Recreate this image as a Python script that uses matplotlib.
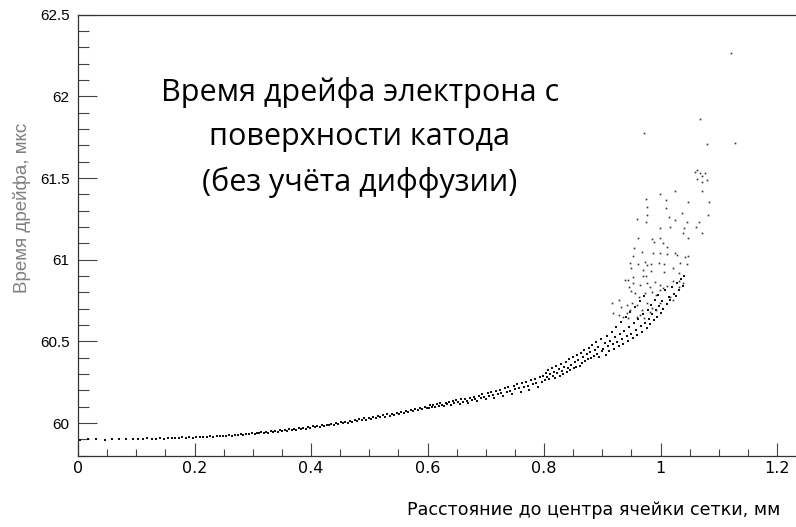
import matplotlib
matplotlib.use('Agg')
import matplotlib.pyplot as plt
from matplotlib.ticker import MultipleLocator

# distance from the grid cell centre, mm  /  drift time, us
# dense band along the curve
x_band = [
    0.004, 0.018, 0.031, 0.046, 0.058, 0.071, 0.083, 0.094, 0.103, 0.112,
    0.119, 0.127, 0.134, 0.141, 0.148, 0.155, 0.161, 0.167, 0.173, 0.179,
    0.185, 0.191, 0.197, 0.203, 0.209, 0.215, 0.221, 0.226, 0.232, 0.238,
    0.243, 0.249, 0.254, 0.259, 0.264, 0.269, 0.274, 0.279, 0.284, 0.289,
    0.294, 0.299,
    0.303, 0.307, 0.311, 0.315, 0.319, 0.323, 0.327, 0.331, 0.335, 0.339,
    0.343, 0.347, 0.351, 0.355, 0.359, 0.363, 0.367, 0.371, 0.375, 0.379,
    0.383, 0.387, 0.391, 0.395, 0.399, 0.403, 0.407, 0.411, 0.415, 0.419,
    0.423, 0.427, 0.431, 0.435, 0.439, 0.443, 0.447, 0.451, 0.455, 0.459,
    0.463, 0.467, 0.471, 0.475, 0.479, 0.483, 0.487, 0.491, 0.495, 0.499,
    0.503, 0.507, 0.511, 0.515, 0.519, 0.523, 0.527, 0.531, 0.535, 0.539,
    0.543, 0.547, 0.551, 0.555, 0.559, 0.563, 0.567, 0.571, 0.575, 0.579,
    0.583, 0.587, 0.591, 0.595, 0.599,
    0.602, 0.604, 0.607, 0.610, 0.613, 0.616, 0.619, 0.622, 0.625, 0.628,
    0.631, 0.634, 0.637, 0.640, 0.643, 0.646, 0.649, 0.652, 0.655, 0.658,
    0.661, 0.664, 0.667, 0.670, 0.673, 0.676, 0.679, 0.682, 0.685, 0.688,
    0.691, 0.694, 0.697, 0.700, 0.703, 0.706, 0.709, 0.712, 0.715, 0.718,
    0.721, 0.724, 0.727, 0.730, 0.733, 0.736, 0.739, 0.742, 0.745, 0.748,
    0.751, 0.754, 0.757, 0.760, 0.763, 0.766, 0.769, 0.772, 0.775, 0.778,
    0.781, 0.784, 0.787, 0.790, 0.793, 0.796, 0.799,
    0.801, 0.803, 0.805, 0.807, 0.809, 0.811, 0.813, 0.815, 0.817, 0.819,
    0.821, 0.823, 0.825, 0.827, 0.829, 0.831, 0.833, 0.835, 0.837, 0.839,
    0.841, 0.843, 0.845, 0.847, 0.849, 0.851, 0.853, 0.855, 0.857, 0.859,
    0.861, 0.863, 0.865, 0.867, 0.869, 0.871, 0.873, 0.875, 0.877, 0.879,
    0.881, 0.883, 0.885, 0.887, 0.889, 0.891, 0.893, 0.895, 0.897, 0.899,
    0.902, 0.904, 0.906, 0.908, 0.910, 0.912, 0.914, 0.916, 0.918, 0.920,
    0.922, 0.924, 0.926, 0.928, 0.930, 0.932, 0.934, 0.936, 0.938, 0.940,
    0.942, 0.944, 0.946, 0.948, 0.950, 0.952, 0.954, 0.956, 0.958, 0.960,
    0.962, 0.964, 0.966, 0.968, 0.970, 0.972, 0.974, 0.976, 0.978, 0.980,
    0.982, 0.984, 0.986, 0.988, 0.990, 0.992, 0.994, 0.996, 0.998, 1.000,
    1.002, 1.005, 1.008, 1.011, 1.014, 1.017, 1.020, 1.023, 1.026, 1.029,
    1.032, 1.035, 1.038, 1.041,
]
y_band = [
    59.899, 59.900, 59.901, 59.899, 59.902, 59.900, 59.903, 59.901, 59.904, 59.902,
    59.906, 59.903, 59.905, 59.908, 59.904, 59.909, 59.906, 59.910, 59.908, 59.912,
    59.909, 59.913, 59.911, 59.915, 59.912, 59.917, 59.914, 59.919, 59.916, 59.921,
    59.918, 59.923, 59.920, 59.926, 59.922, 59.928, 59.925, 59.931, 59.927, 59.933,
    59.930, 59.936,
    59.932, 59.941, 59.937, 59.944, 59.939, 59.946, 59.942, 59.949, 59.944, 59.951,
    59.947, 59.955, 59.950, 59.958, 59.953, 59.961, 59.956, 59.964, 59.960, 59.967,
    59.962, 59.971, 59.966, 59.975, 59.970, 59.979, 59.974, 59.983, 59.977, 59.987,
    59.981, 59.991, 59.985, 59.995, 59.989, 60.000, 59.993, 60.004, 59.998, 60.009,
    60.002, 60.014, 60.007, 60.018, 60.011, 60.023, 60.016, 60.028, 60.020, 60.033,
    60.025, 60.037, 60.030, 60.042, 60.035, 60.047, 60.040, 60.053, 60.045, 60.058,
    60.050, 60.064, 60.056, 60.069, 60.061, 60.075, 60.066, 60.081, 60.072, 60.086,
    60.078, 60.092, 60.083, 60.098, 60.089,
    60.094, 60.108, 60.101, 60.112, 60.097, 60.116, 60.106, 60.121, 60.111, 60.103,
    60.124, 60.115, 60.129, 60.110, 60.133, 60.121, 60.140, 60.126, 60.116, 60.145,
    60.131, 60.150, 60.136, 60.124, 60.155, 60.142, 60.161, 60.146, 60.133, 60.168,
    60.153, 60.175, 60.160, 60.145, 60.183, 60.166, 60.190, 60.172, 60.156, 60.196,
    60.180, 60.204, 60.186, 60.168, 60.212, 60.193, 60.220, 60.199, 60.180, 60.228,
    60.207, 60.236, 60.214, 60.192, 60.244, 60.222, 60.252, 60.229, 60.205, 60.262,
    60.238, 60.270, 60.245, 60.220, 60.280, 60.254, 60.290,
    60.262, 60.305, 60.281, 60.325, 60.270, 60.298, 60.340, 60.287, 60.315, 60.275,
    60.350, 60.305, 60.330, 60.291, 60.362, 60.318, 60.300, 60.345, 60.375, 60.312,
    60.336, 60.390, 60.322, 60.358, 60.402, 60.335, 60.372, 60.345, 60.415, 60.388,
    60.352, 60.430, 60.365, 60.402, 60.448, 60.378, 60.420, 60.390, 60.462, 60.435,
    60.398, 60.478, 60.412, 60.450, 60.495, 60.425, 60.468, 60.405, 60.512, 60.440,
    60.455, 60.492, 60.418, 60.530, 60.470, 60.440, 60.505, 60.560, 60.482, 60.452,
    60.525, 60.590, 60.498, 60.470, 60.545, 60.620, 60.512, 60.485, 60.565, 60.650,
    60.530, 60.500, 60.590, 60.680, 60.548, 60.520, 60.615, 60.710, 60.570, 60.540,
    60.640, 60.745, 60.592, 60.560, 60.668, 60.780, 60.615, 60.582, 60.695, 60.640,
    60.605, 60.725, 60.668, 60.630, 60.755, 60.692, 60.652, 60.785, 60.718, 60.675,
    60.745, 60.700, 60.812, 60.728, 60.770, 60.752, 60.835, 60.790, 60.775, 60.855,
    60.812, 60.880, 60.840, 60.900,
]

# sparse cloud above the band near the grid wire
x_cloud = [
    0.972, 1.080, 1.059, 1.063, 1.068, 1.072, 1.076, 1.079, 1.062, 1.071,
    1.025, 1.072, 0.999, 0.975, 1.009, 1.048, 1.083, 0.976, 1.009, 1.037,
    0.977, 1.015, 1.081, 0.959, 1.025, 1.045, 1.066, 0.975, 0.999, 1.016,
    1.040, 1.061, 1.071, 1.039, 1.048, 0.985, 0.999, 0.961, 1.005, 0.988,
    1.011, 0.955, 0.968, 0.987, 0.999, 1.011, 1.025, 1.029, 1.042, 1.048,
    0.953, 0.973, 0.977, 0.983, 0.997, 1.006, 1.033, 1.046, 0.948, 0.949,
    0.962, 0.970, 0.983, 1.022, 1.031, 1.006, 0.970, 0.975, 0.952, 0.939,
    0.945, 0.953, 0.965, 0.977, 0.982, 0.991, 0.999, 1.011, 1.005, 1.022,
    1.031, 1.039, 1.031, 0.946, 0.950, 0.957, 0.963, 0.973, 0.985, 0.993,
    0.999, 1.022, 1.016, 0.916, 0.928, 0.933, 0.942, 0.951, 0.959, 0.968,
    0.976, 0.985, 0.999, 0.993, 0.919, 0.928, 0.936, 0.942, 0.945, 0.948,
    0.959, 0.965, 0.971, 0.982, 1.068, 1.121, 1.128,
]
y_cloud = [
    61.773, 61.706, 61.539, 61.549, 61.528, 61.512, 61.533, 61.488, 61.492, 61.477,
    61.422, 61.422, 61.402, 61.373, 61.365, 61.355, 61.355, 61.320, 61.314, 61.288,
    61.273, 61.263, 61.271, 61.247, 61.243, 61.228, 61.230, 61.228, 61.192, 61.202,
    61.192, 61.198, 61.161, 61.161, 61.130, 61.126, 61.130, 61.135, 61.104, 61.106,
    61.079, 61.069, 61.045, 61.043, 61.039, 61.035, 61.043, 61.028, 61.018, 61.022,
    61.022, 60.988, 60.967, 60.971, 60.981, 60.971, 60.981, 60.971, 60.981, 60.951,
    60.973, 60.937, 60.932, 60.947, 60.920, 60.926, 60.900, 60.902, 60.896, 60.875,
    60.875, 60.855, 60.845, 60.855, 60.834, 60.865, 60.845, 60.839, 60.824, 60.869,
    60.867, 60.855, 60.834, 60.834, 60.810, 60.794, 60.773, 60.794, 60.804, 60.784,
    60.814, 60.753, 60.773, 60.737, 60.753, 60.712, 60.722, 60.737, 60.722, 60.692,
    60.732, 60.702, 60.732, 60.692, 60.671, 60.661, 60.651, 60.671, 60.641, 60.692,
    60.651, 60.661, 60.641, 60.682, 61.864, 62.264, 61.715,
]

title_lines = ['Время дрейфа электрона с', 'поверхности катода', '(без учёта диффузии)']

fig = plt.figure(figsize=(7.96, 5.27), dpi=100)
ax = fig.add_axes([0.098, 0.1353, 0.902, 0.8367])

ax.plot(x_band, y_band, linestyle='none', marker='s', markersize=1.5,
        markeredgewidth=0, color='#111111')
ax.plot(x_cloud, y_cloud, linestyle='none', marker='s', markersize=1.2,
        markeredgewidth=0, color='#333333')

ax.set_xlim(0, 1.2326)
ax.set_ylim(59.8, 62.5)

ax.xaxis.set_major_locator(MultipleLocator(0.2))
ax.xaxis.set_minor_locator(MultipleLocator(0.05))
ax.yaxis.set_major_locator(MultipleLocator(0.5))
ax.yaxis.set_minor_locator(MultipleLocator(0.1))
ax.xaxis.set_major_formatter(plt.FuncFormatter(lambda v, p: '%g' % round(v, 2)))
ax.yaxis.set_major_formatter(plt.FuncFormatter(lambda v, p: '%g' % round(v, 2)))

ax.tick_params(which='both', direction='in', color='#444444', width=0.8,
               top=False, right=False)
ax.tick_params(axis='y', which='major', length=14)
ax.tick_params(axis='y', which='minor', length=8)
ax.tick_params(axis='x', which='major', length=9.5)
ax.tick_params(axis='x', which='minor', length=5)
ax.tick_params(axis='y', labelsize=11, pad=6)
ax.tick_params(axis='x', labelsize=11.5, pad=4)
for lab in ax.get_yticklabels():
    lab.set_family('Liberation Sans')

for side in ['left', 'bottom', 'top']:
    ax.spines[side].set_color('#333333')
    ax.spines[side].set_linewidth(0.9)
ax.spines['right'].set_visible(False)

fig.text(0.98, 0.032, 'Расстояние до центра ячейки сетки, мм', ha='right',
         va='center', fontsize=12.6, family='DejaVu Sans')
fig.text(0.028, 0.605, 'Время дрейфа, мкс', rotation=90, ha='center',
         va='center', fontsize=13.5, color='#808080', family='Liberation Sans')

fig.text(0.452, 0.739, '\n'.join(title_lines), ha='center', va='center',
         multialignment='center', fontsize=22, linespacing=1.62,
         family=['Open Sans', 'DejaVu Sans'])

fig.savefig('out.png', dpi=100)
